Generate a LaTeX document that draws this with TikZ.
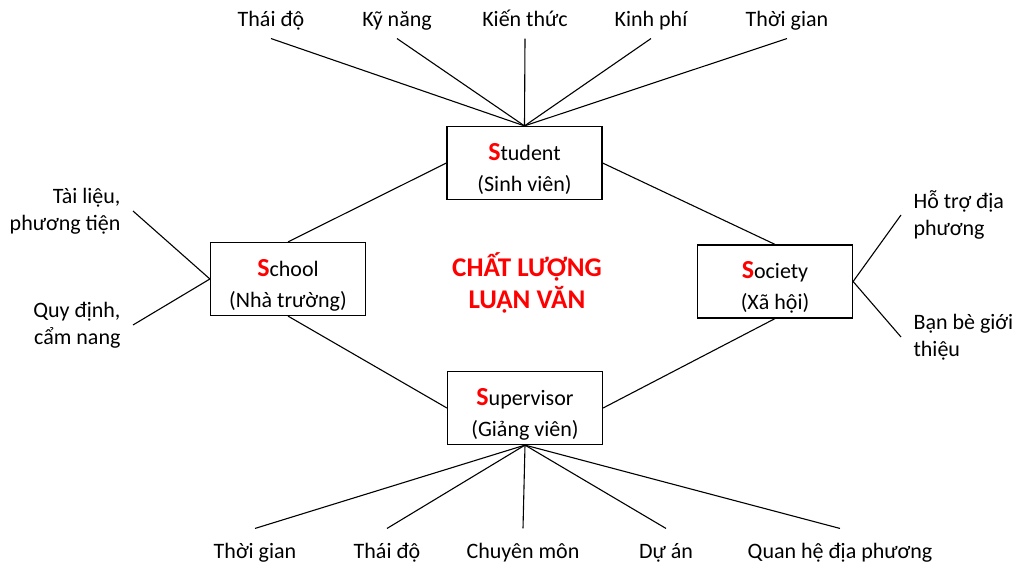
\documentclass[tikz,border=0pt]{standalone}
\usepackage{fontspec}
\setmainfont{Carlito}
\usepackage{tikz}
\newcommand{\bigS}{\rule{0pt}{29pt}{\fontsize{26}{26}\selectfont\bfseries\color{red}S}}

\begin{document}
\begin{tikzpicture}[x=1pt,y=-1pt,line width=1.1pt,
  sbox/.style={draw,line width=1.2pt,minimum width=155pt,minimum height=73pt,align=center,font=\fontsize{22}{31}\selectfont,inner sep=2pt},
  toplbl/.style={anchor=base,font=\fontsize{22}{27}\selectfont,text depth=6pt,inner sep=5pt},
  botlbl/.style={anchor=base,font=\fontsize{22}{27}\selectfont,text height=24pt,inner sep=5pt},
  sidelbl/.style={font=\fontsize{22}{27}\selectfont,inner xsep=12pt,inner ysep=0pt}]
\useasboundingbox (0,0) rectangle (1021,564);
\node[sbox] (student) at (524.5,163) {\bigS tudent\\(Sinh viên)};
\node[sbox] (school) at (288,279) {\bigS chool\\(Nhà trường)};
\node[sbox] (society) at (775,281.5) {\bigS ociety\\(Xã hội)};
\node[sbox] (supervisor) at (525,408) {\bigS upervisor\\(Giảng viên)};
\node[align=center,text=red,font=\fontsize{27}{32}\selectfont\bfseries] (title) at (527,283) {CHẤT LƯỢNG\\LUẬN VĂN};
\draw (school.north) -- (student.west);
\draw (student.east) -- (society.north);
\draw (society.south) -- (supervisor.east);
\draw (supervisor.west) -- (school.south);
\foreach \x/\lbl [count=\i] in %
{271/Thái độ,397/Kỹ năng,525/Kiến thức,651/Kinh phí,787/Thời gian} {
   \node[toplbl] (top\i) at (\x,27) {\lbl};
   \draw (top\i.south) -- (student.north);
}
\foreach \x/\lbl [count=\i] in %
{255/Thời gian,387/Thái độ,523/Chuyên môn,666/Dự án,840/Quan hệ địa phương} {
   \node[botlbl] (bot\i) at (\x,558) {\lbl};
   \draw (bot\i.north) -- (supervisor.south);
}
\node[sidelbl,anchor=east,align=right] (tailieu) at (133,211) {Tài liệu,\\phương tiện};
\node[sidelbl,anchor=east,align=right] (quydinh) at (133,325) {Quy định,\\cẩm nang};
\node[sidelbl,anchor=west,align=left] (hotro) at (901,215) {Hỗ trợ địa\\phương};
\node[sidelbl,anchor=west,align=left] (banbe) at (901,337) {Bạn bè giới\\thiệu};
\draw (tailieu.east) -- (school.west);
\draw (quydinh.east) -- (school.west);
\draw (hotro.west) -- (society.east);
\draw (banbe.west) -- (society.east);
\end{tikzpicture}
\end{document}
